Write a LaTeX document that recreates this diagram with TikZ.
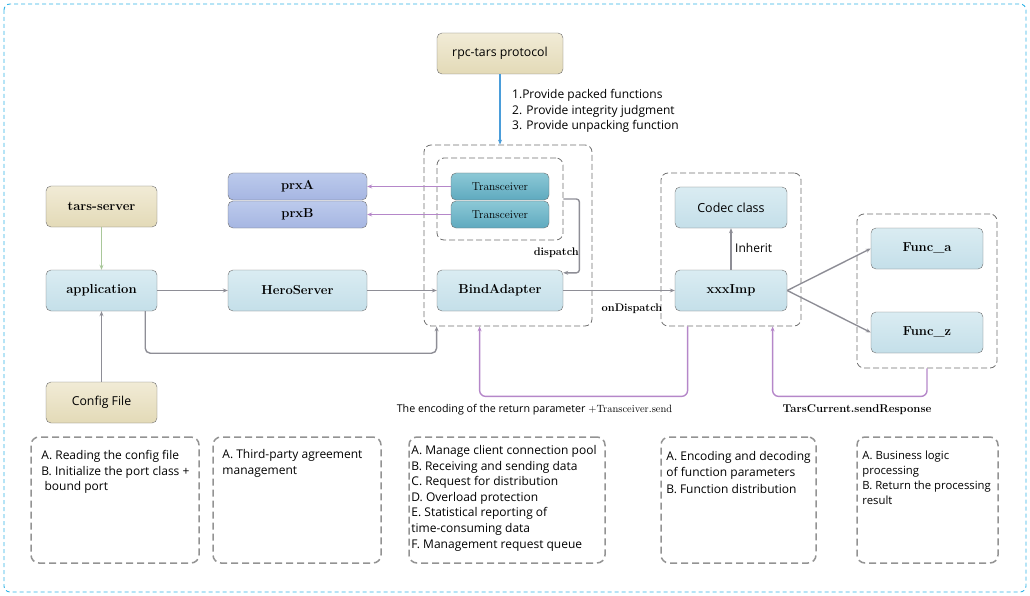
\documentclass[tikz,border=0pt]{standalone}
\usepackage{fontspec}
\setsansfont{Open Sans}
\usetikzlibrary{arrows.meta,positioning,calc}
\definecolor{LineGray}{HTML}{6E6E6E}
\definecolor{ArrowGray}{HTML}{8E8E96}
\definecolor{BlueTop}{HTML}{DAECF2}
\definecolor{BlueBot}{HTML}{C4DFE9}
\definecolor{SandTop}{HTML}{F1EBD6}
\definecolor{SandBot}{HTML}{E3DAB7}
\definecolor{PrxTop}{HTML}{BCCAEC}
\definecolor{PrxBot}{HTML}{A6B6E2}
\definecolor{TcvTop}{HTML}{8CC8D6}
\definecolor{TcvBot}{HTML}{5FAABF}
\definecolor{RetPurple}{HTML}{B587C9}
\definecolor{FeedGreen}{HTML}{A9C79A}
\definecolor{RpcBlue}{HTML}{4A9DDA}
\definecolor{FrameBlue}{HTML}{2FB3E6}
\tikzset{block/.style={
         draw=LineGray,rounded corners=5pt,inner sep=0pt,top color=#1Top,bottom color=#1Bot}}
\tikzset{group/.style={
         draw=LineGray,line width=0.8pt,dash pattern=on 6pt off 3pt,rounded corners=7pt,inner sep=0pt}}
\tikzset{note/.style={
         draw=gray!85,line width=1.5pt,dash pattern=on 7pt off 4pt,rounded corners=8pt,inner sep=0pt,minimum height=126pt}}
\tikzset{flow/.style={
         color=#1,line width=1.4pt,-{Stealth[length=5pt,width=4pt]}}}
\tikzset{notetext/.style={
         anchor=north west,align=left,inner sep=0pt,font=\sffamily\fontsize{12}{15.6}\selectfont}}

\begin{document}
\begin{tikzpicture}[x=1pt,y=-1pt,
bluenode/.style={block=Blue,minimum width=112pt,minimum height=41pt,font=\bfseries\fontsize{13}{15}\selectfont},
sandnode/.style={block=Sand,minimum width=111pt,minimum height=41pt},
prxnode/.style={block=Prx,minimum width=139pt,minimum height=27pt,font=\bfseries\fontsize{13}{15}\selectfont},
tcvnode/.style={block=Tcv,minimum width=98pt,minimum height=27pt,font=\fontsize{11.5}{13}\selectfont},
lbl/.style={inner sep=0pt,font=\bfseries\fontsize{11}{13}\selectfont},
slbl/.style={inner sep=0pt,font=\sffamily\fontsize{12}{14}\selectfont}]
\useasboundingbox (0,0) rectangle (1030,596);
\draw [FrameBlue,line width=0.9pt,dash pattern=on 4pt off 3pt,rounded corners=6pt] (4,4) rectangle (1026,592);

% groups
\node [group,minimum width=168pt,minimum height=181pt] (grpBA) at (508,235.5) {};
\node [group,minimum width=126pt,minimum height=82pt] (grpTcv) at (500,199) {};
\node [group,minimum width=140pt,minimum height=153pt] (grpImp) at (731,249.5) {};
\node [group,minimum width=140pt,minimum height=154pt] (grpFunc) at (927,291) {};

% blocks
\node [sandnode,minimum width=126pt,font=\sffamily\fontsize{12.3}{14}\selectfont] (rpc) at (500,53.5) {rpc-tars protocol};
\node [sandnode,font=\bfseries\fontsize{13}{15}\selectfont] (tars) at (101.5,206.5) {tars-server};
\node [bluenode,minimum width=111pt] (app) at (101.5,290.5) {application};
\node [sandnode,font=\sffamily\fontsize{12.3}{14}\selectfont] (cfg) at (101.5,402.5) {Config File};
\node [prxnode] (prxA) at (297.5,186.5) {prxA};
\node [prxnode] (prxB) at (297.5,214.5) {prxB};
\node [bluenode,minimum width=139pt] (hero) at (297.5,290.5) {HeroServer};
\node [tcvnode] (tcvA) at (500,186.5) {Transceiver};
\node [tcvnode] (tcvB) at (500,214.5) {Transceiver};
\node [bluenode,minimum width=126pt] (ba) at (500,290.5) {BindAdapter};
\node [bluenode,font=\sffamily\fontsize{12.5}{14}\selectfont] (codec) at (731,207.5) {Codec class};
\node [bluenode] (imp) at (731,290.5) {xxxImp};
\node [bluenode] (funcA) at (927,248.5) {Func\_a};
\node [bluenode] (funcZ) at (927,332.5) {Func\_z};

% arrows
\draw [flow=RpcBlue] (rpc.south) -- (rpc.south |- grpBA.north);
\node [slbl,anchor=north west,align=left,font=\sffamily\fontsize{12}{15.7}\selectfont] (rpcnote) at (512,89) {1.Provide packed functions\\2. Provide integrity judgment\\3. Provide unpacking function};
\draw [flow=FeedGreen] (tars) -- (app);
\draw [flow=ArrowGray] (cfg) -- (app);
\draw [flow=ArrowGray] (app) -- (hero);
\draw [flow=ArrowGray] (hero) -- (ba);
\draw [flow=ArrowGray,rounded corners=5pt] ([xshift=-12pt]app.south east) -- ++(0,42) -| ([xshift=13pt]grpBA.south west);
\draw [flow=RetPurple] (tcvA) -- (prxA);
\draw [flow=RetPurple] (tcvB) -- (prxB);
\draw [flow=ArrowGray,rounded corners=3pt] (grpTcv.east) -- ++(16,0) |- ([yshift=-3pt]ba.north east);
\node [lbl,anchor=east] (dispatch) at (579,253) {dispatch};
\draw [flow=ArrowGray] (ba) -- (imp);
\node [lbl] (ondispatch) at (632,309) {onDispatch};
\draw [flow=ArrowGray] (imp) -- (codec);
\node [slbl,anchor=west] (inherit) at (735,248) {Inherit};
\draw [flow=ArrowGray] (imp.east) -- (funcA.west);
\draw [flow=ArrowGray] (imp.east) -- (funcZ.west);
\draw [flow=RetPurple,rounded corners=6pt] ([xshift=27pt]grpImp.south west) -- ++(0,70) -| ([xshift=56pt]grpBA.south west);
\node [slbl,font=\sffamily\fontsize{10.7}{13}\selectfont] (encode) at (534.5,410) {The encoding of the return parameter {\rmfamily\fontsize{10.5}{13}\selectfont +Transceiver.send}};
\draw [flow=RetPurple,rounded corners=6pt] (grpFunc.south) -- ++(0,28) -| ([xshift=112pt]grpImp.south west);
\node [lbl,font=\bfseries\fontsize{11.3}{13}\selectfont] (sendresp) at (857,410) {TarsCurrent.sendResponse};

% notes
\foreach \n/\x/\w in {1/115/168,2/297/168,3/507/196,4/738.5/155,5/927.5/141}
  {\node [note,minimum width=\w pt] (note\n) at (\x,500) {};}
\node [notetext] (txt1) at ([xshift=11pt,yshift=-14pt]note1.north west) {A. Reading the config file\\B. Initialize the port class +\\\ bound port};
\node [notetext] (txt2) at ([xshift=10pt,yshift=-13pt]note2.north west) {A. Third-party agreement\\management};
\node [notetext] (txt3) at ([xshift=3pt,yshift=-9pt]note3.north west) {A. Manage client connection pool\\B. Receiving and sending data\\C. Request for distribution\\D. Overload protection\\E. Statistical reporting of\\time-consuming data\\F. Management request queue};
\node [notetext,font=\sffamily\fontsize{12}{16.4}\selectfont] (txt4) at ([xshift=6pt,yshift=-15pt]note4.north west) {A. Encoding and decoding\\of function parameters\\B. Function distribution};
\node [notetext,font=\sffamily\fontsize{11.3}{15.3}\selectfont] (txt5) at ([xshift=6pt,yshift=-14pt]note5.north west) {A. Business logic\\processing\\B. Return the processing\\result};
\end{tikzpicture}
\end{document}
